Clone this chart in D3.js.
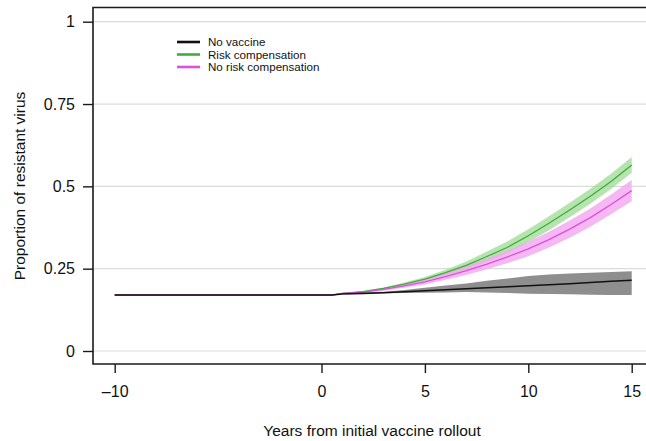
<!DOCTYPE html>
<html>
<head>
<meta charset="utf-8">
<script src="https://cdn.jsdelivr.net/npm/d3@7"></script>
<style>
  body { margin: 0; background: #fff; }
  svg { display: block; font-family: "Liberation Sans", Arial, sans-serif; }
</style>
</head>
<body>
<div class="canvas"></div>
<script>
// data
const years = [-10, -5, 0, 0.5, 1, 2, 3, 4, 5, 6, 7, 8, 9, 10, 11, 12, 13, 14, 15];

const noVacMean = [0.170, 0.170, 0.170, 0.170, 0.173, 0.175, 0.177, 0.180, 0.183, 0.186, 0.189, 0.192, 0.195, 0.198, 0.201, 0.204, 0.208, 0.212, 0.215];
const noVacLow  = [0.170, 0.170, 0.170, 0.170, 0.173, 0.174, 0.175, 0.176, 0.177, 0.178, 0.179, 0.178, 0.176, 0.174, 0.173, 0.172, 0.171, 0.170, 0.170];
const noVacHigh = [0.170, 0.170, 0.170, 0.170, 0.173, 0.176, 0.180, 0.185, 0.192, 0.199, 0.205, 0.213, 0.220, 0.228, 0.232, 0.235, 0.238, 0.240, 0.242];

const riskMean = [0.170, 0.170, 0.170, 0.170, 0.175, 0.180, 0.190, 0.203, 0.218, 0.238, 0.260, 0.287, 0.315, 0.350, 0.388, 0.428, 0.470, 0.515, 0.565];
const riskLow  = [0.170, 0.170, 0.170, 0.170, 0.174, 0.178, 0.187, 0.198, 0.211, 0.229, 0.248, 0.272, 0.297, 0.330, 0.367, 0.406, 0.447, 0.492, 0.541];
const riskHigh = [0.170, 0.170, 0.170, 0.170, 0.176, 0.182, 0.193, 0.208, 0.225, 0.247, 0.272, 0.302, 0.333, 0.370, 0.409, 0.450, 0.493, 0.538, 0.589];

const noRiskMean = [0.170, 0.170, 0.170, 0.170, 0.175, 0.179, 0.187, 0.198, 0.210, 0.226, 0.244, 0.264, 0.286, 0.310, 0.338, 0.370, 0.405, 0.445, 0.487];
const noRiskLow  = [0.170, 0.170, 0.170, 0.170, 0.174, 0.177, 0.183, 0.192, 0.202, 0.216, 0.231, 0.248, 0.267, 0.288, 0.314, 0.344, 0.377, 0.415, 0.455];
const noRiskHigh = [0.170, 0.170, 0.170, 0.170, 0.176, 0.181, 0.191, 0.204, 0.218, 0.236, 0.257, 0.280, 0.305, 0.332, 0.362, 0.396, 0.433, 0.475, 0.519];

const seriesNames = ["No vaccine", "Risk compensation", "No risk compensation"];
const xTicks = [-10, 0, 5, 10, 15];
const xTickLabels = ["\u201310", "0", "5", "10", "15"];
const yTicks = [0, 0.25, 0.5, 0.75, 1];
const yTickLabels = ["0", "0.25", "0.5", "0.75", "1"];

const width = 646, height = 441;
const box = {left: 93, top: 7.5, bottom: 364, right: 650};

const svg = d3.select('.canvas')
    .append('svg')
        .attr('width', width)
        .attr('height', height);

const x = d3.scaleLinear().domain([-10, 15]).range([114.7, 631.7]);
const y = d3.scaleLinear().domain([0, 1]).range([351, 21.7]);

// gridlines
svg.append("g")
    .selectAll("line")
    .data(yTicks)
    .enter()
    .append("line")
        .attr("x1", box.left)
        .attr("x2", box.right)
        .attr("y1", d => y(d))
        .attr("y2", d => y(d))
        .attr("stroke", "#dcdcdc")
        .attr("stroke-width", 1.2);

const series = [
    {mean: noVacMean, low: noVacLow, high: noVacHigh, line: "#111111", band: "#8e8e8e", op: 1},
    {mean: riskMean, low: riskLow, high: riskHigh, line: "#3bae3b", band: "#9ed994", op: 0.75},
    {mean: noRiskMean, low: noRiskLow, high: noRiskHigh, line: "#dd4fdd", band: "#f4a6ef", op: 0.8}
];

const area = d3.area()
    .x((d, i) => x(years[i]))
    .y0(d => y(d[0]))
    .y1(d => y(d[1]));

const line = d3.line()
    .x((d, i) => x(years[i]))
    .y(d => y(d));

// bands
series.forEach(s => {
    svg.append("path")
        .datum(s.low.map((v, i) => [v, s.high[i]]))
        .attr("d", area)
        .attr("fill", s.band)
        .attr("fill-opacity", s.op);
});

// mean lines (no vaccine on top)
[series[1], series[2], series[0]].forEach(s => {
    svg.append("path")
        .datum(s.mean)
        .attr("d", line)
        .attr("fill", "none")
        .attr("stroke", s.line)
        .attr("stroke-width", s.line === "#111111" ? 1.6 : 1.3);
});

// box
svg.append("path")
    .attr("d", `M${box.right},${box.top}H${box.left}V${box.bottom}H${box.right}`)
    .attr("fill", "none")
    .attr("stroke", "#1a1a1a")
    .attr("stroke-width", 1.6);

// Y axis
const yAxis = svg.append("g")
    .attr("transform", `translate(${box.left},0)`)
    .call(d3.axisLeft(y).tickValues(yTicks).tickSize(10).tickPadding(8)
        .tickFormat((d, i) => yTickLabels[i]));
yAxis.select(".domain").remove();
yAxis.selectAll("line").attr("stroke", "#1a1a1a").attr("stroke-width", 1.4);
yAxis.selectAll("text")
    .style("font-family", "'Liberation Sans', Arial, sans-serif")
    .style("font-size", "16px")
    .attr("fill", "#111");

// X axis
const xAxis = svg.append("g")
    .attr("transform", `translate(0,${box.bottom})`)
    .call(d3.axisBottom(x).tickValues(xTicks).tickSize(9).tickPadding(13)
        .tickFormat((d, i) => xTickLabels[i]));
xAxis.select(".domain").remove();
xAxis.selectAll("line").attr("stroke", "#1a1a1a").attr("stroke-width", 1.4);
xAxis.selectAll("text")
    .style("font-family", "'Liberation Sans', Arial, sans-serif")
    .style("font-size", "16px")
    .attr("fill", "#111");

// axis titles
svg.append("text")
    .attr("x", 372)
    .attr("y", 436)
    .attr("text-anchor", "middle")
    .style("font-size", "15.5px")
    .attr("fill", "#111")
    .text("Years from initial vaccine rollout");

svg.append("text")
    .attr("transform", "translate(25,186) rotate(-90)")
    .attr("text-anchor", "middle")
    .style("font-size", "15.5px")
    .attr("fill", "#111")
    .text("Proportion of resistant virus");

// legend
const legend = svg.append("g").attr("transform", "translate(177,42)");
seriesNames.forEach((name, i) => {
    legend.append("line")
        .attr("x1", 0).attr("x2", 23)
        .attr("y1", i * 12.5).attr("y2", i * 12.5)
        .attr("stroke", series[i].line)
        .attr("stroke-width", 2.6);
    legend.append("text")
        .attr("x", 31)
        .attr("y", i * 12.5 + 4)
        .style("font-size", "11.6px")
        .attr("fill", "#111")
        .text(name);
});
</script>
</body>
</html>
